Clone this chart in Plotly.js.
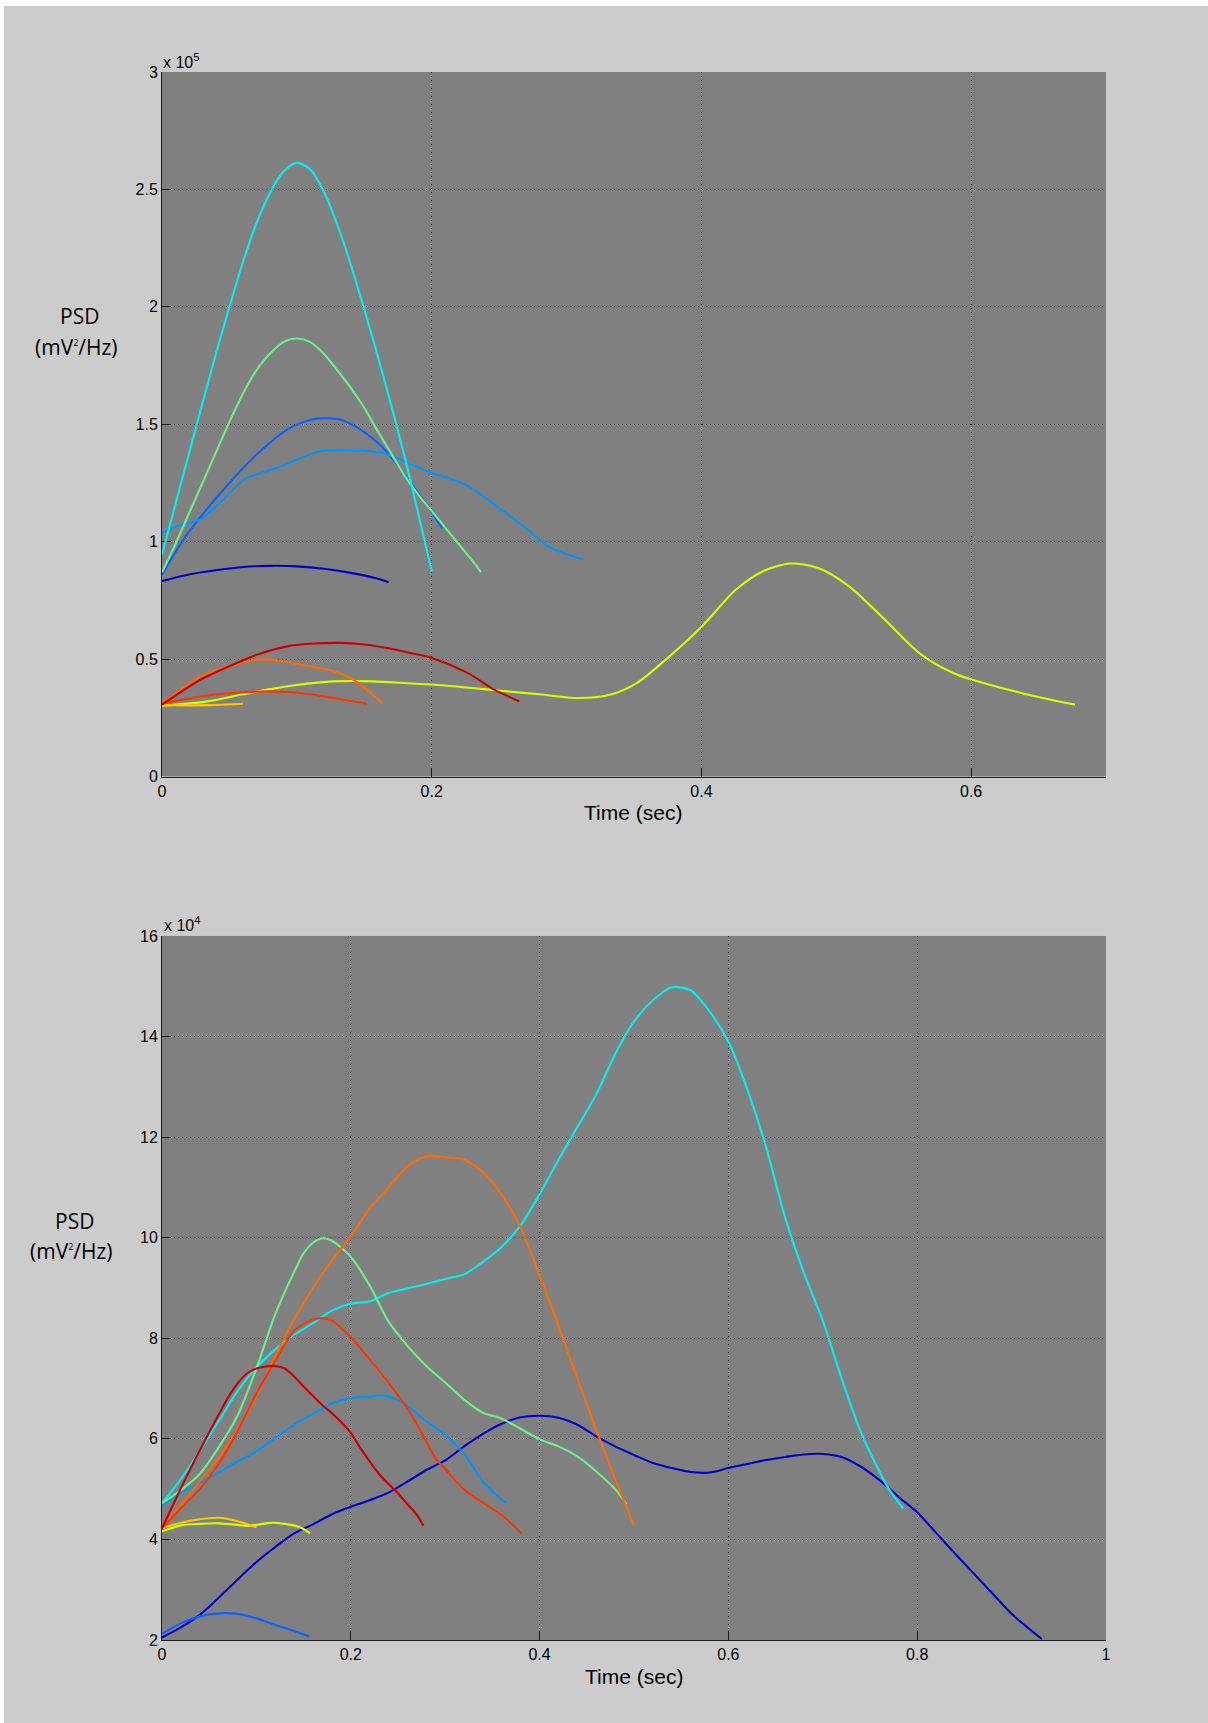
<!DOCTYPE html>
<html>
<head>
<meta charset="utf-8">
<script src="https://cdn.plot.ly/plotly-3.0.1.min.js"></script>
<style>
  html, body { margin: 0; padding: 0; background: #ffffff; }
  #chart { position: absolute; left: 4px; top: 6px; width: 1204px; height: 1717px; }
</style>
</head>
<body>
<div id="chart"></div>
<script>
// ---------- TOP PANEL (PSD in units of 10^5 mV^2/Hz) ----------
const topDarkBlueX = [0, 0.02, 0.04, 0.06, 0.08, 0.1, 0.12, 0.14, 0.16, 0.168];
const topDarkBlueY = [0.832, 0.86, 0.878, 0.892, 0.897, 0.895, 0.885, 0.867, 0.842, 0.827];

const topBlueX = [0, 0.016, 0.03, 0.048, 0.07, 0.093, 0.105, 0.115, 0.125, 0.132, 0.147, 0.165, 0.182, 0.197, 0.208];
const topBlueY = [0.86, 1.01, 1.115, 1.237, 1.37, 1.478, 1.51, 1.524, 1.525, 1.52, 1.478, 1.393, 1.27, 1.151, 1.055];

const topLightBlueX = [0, 0.011, 0.0284, 0.048, 0.061, 0.0855, 0.1176, 0.135, 0.152, 0.167, 0.1795, 0.2006, 0.219, 0.229, 0.2414, 0.2563, 0.271, 0.286, 0.296, 0.3127];
const topLightBlueY = [1.038, 1.066, 1.095, 1.194, 1.265, 1.315, 1.386, 1.388, 1.386, 1.372, 1.343, 1.291, 1.258, 1.23, 1.18, 1.116, 1.052, 0.981, 0.955, 0.924];

const topCyanX = [0, 0.01, 0.02, 0.03, 0.04, 0.05, 0.06, 0.07, 0.08, 0.09, 0.1, 0.11, 0.12, 0.13, 0.14, 0.15, 0.16, 0.17, 0.18, 0.19, 0.2];
const topCyanY = [0.945, 1.16, 1.375, 1.59, 1.8, 2.0, 2.19, 2.355, 2.485, 2.575, 2.613, 2.585, 2.49, 2.35, 2.18, 1.99, 1.79, 1.58, 1.36, 1.12, 0.875];

const topGreenX = [0, 0.01, 0.02, 0.03, 0.04, 0.05, 0.06, 0.07, 0.08, 0.09, 0.1, 0.11, 0.12, 0.13, 0.14, 0.15, 0.16, 0.17, 0.18, 0.19, 0.2, 0.21, 0.22, 0.23, 0.2365];
const topGreenY = [0.87, 0.99, 1.12, 1.25, 1.38, 1.51, 1.63, 1.73, 1.8, 1.85, 1.865, 1.85, 1.8, 1.73, 1.655, 1.57, 1.47, 1.375, 1.28, 1.2, 1.13, 1.06, 0.99, 0.92, 0.87];

const topYellowX = [0, 0.0335, 0.06, 0.078, 0.1, 0.1275, 0.157, 0.18, 0.202, 0.23, 0.251, 0.28, 0.308, 0.332, 0.352, 0.375, 0.4005, 0.4257, 0.4458, 0.4659, 0.486, 0.5095, 0.536, 0.563, 0.5866, 0.601, 0.637, 0.677];
const topYellowY = [0.301, 0.32, 0.35, 0.37, 0.39, 0.405, 0.405, 0.398, 0.391, 0.377, 0.365, 0.35, 0.334, 0.348, 0.398, 0.505, 0.64, 0.796, 0.874, 0.907, 0.889, 0.81, 0.668, 0.519, 0.441, 0.412, 0.356, 0.306];

const topGoldX = [0, 0.02, 0.04, 0.06];
const topGoldY = [0.305, 0.303, 0.305, 0.31];

const topOrangeX = [0, 0.0285, 0.053, 0.0706, 0.085, 0.103, 0.1275, 0.142, 0.153, 0.164];
const topOrangeY = [0.31, 0.426, 0.476, 0.498, 0.495, 0.476, 0.448, 0.412, 0.365, 0.31];

const topRedOrangeX = [0, 0.0285, 0.05, 0.073, 0.093, 0.11, 0.1275, 0.152];
const topRedOrangeY = [0.31, 0.341, 0.355, 0.362, 0.36, 0.35, 0.334, 0.31];

const topRedX = [0, 0.0285, 0.05, 0.0706, 0.093, 0.11, 0.1324, 0.15, 0.167, 0.185, 0.2, 0.2266, 0.2463, 0.265];
const topRedY = [0.306, 0.412, 0.47, 0.519, 0.554, 0.565, 0.569, 0.562, 0.547, 0.525, 0.505, 0.441, 0.37, 0.32];

// ---------- BOTTOM PANEL (PSD in units of 10^4 mV^2/Hz) ----------
const botDarkBlueX = [0, 0.02, 0.04, 0.06, 0.08, 0.1, 0.12, 0.14, 0.16, 0.18, 0.2, 0.22, 0.24, 0.26, 0.28, 0.3, 0.32, 0.34, 0.36, 0.38, 0.4, 0.42, 0.44, 0.46, 0.48, 0.5, 0.52, 0.54, 0.56, 0.58, 0.6, 0.62, 0.64, 0.66, 0.68, 0.7, 0.72, 0.74, 0.76, 0.78, 0.8, 0.82, 0.84, 0.86, 0.88, 0.9, 0.932];
const botDarkBlueY = [2.05, 2.25, 2.5, 2.84, 3.2, 3.55, 3.85, 4.12, 4.3, 4.5, 4.65, 4.78, 4.93, 5.15, 5.38, 5.57, 5.85, 6.1, 6.3, 6.43, 6.46, 6.42, 6.28, 6.05, 5.85, 5.68, 5.52, 5.42, 5.34, 5.33, 5.42, 5.5, 5.58, 5.64, 5.69, 5.7, 5.64, 5.45, 5.18, 4.85, 4.54, 4.13, 3.72, 3.32, 2.92, 2.52, 2.02];

const botBlueX = [0, 0.02, 0.04, 0.06, 0.08, 0.1, 0.12, 0.14, 0.156];
const botBlueY = [2.12, 2.33, 2.47, 2.53, 2.52, 2.43, 2.3, 2.18, 2.07];

const botLightBlueX = [0, 0.02, 0.04, 0.06, 0.08, 0.1, 0.12, 0.14, 0.16, 0.18, 0.2, 0.22, 0.235, 0.25, 0.26, 0.28, 0.3, 0.32, 0.34, 0.352, 0.365];
const botLightBlueY = [4.68, 4.92, 5.12, 5.33, 5.55, 5.75, 6.02, 6.28, 6.5, 6.7, 6.81, 6.84, 6.86, 6.77, 6.65, 6.35, 6.08, 5.7, 5.15, 4.92, 4.72];

const botCyanX = [0, 0.02, 0.04, 0.06, 0.08, 0.1, 0.12, 0.14, 0.16, 0.18, 0.2, 0.22, 0.24, 0.26, 0.28, 0.3, 0.32, 0.34, 0.36, 0.38, 0.4, 0.42, 0.44, 0.46, 0.48, 0.5, 0.52, 0.54, 0.56, 0.58, 0.6, 0.62, 0.64, 0.66, 0.68, 0.7, 0.72, 0.74, 0.76, 0.77, 0.785];
const botCyanY = [4.72, 5.2, 5.76, 6.35, 6.95, 7.42, 7.78, 8.07, 8.3, 8.55, 8.69, 8.73, 8.9, 8.99, 9.08, 9.18, 9.27, 9.52, 9.82, 10.25, 10.86, 11.55, 12.2, 12.85, 13.65, 14.3, 14.72, 14.98, 14.92, 14.5, 13.9, 12.95, 11.8, 10.41, 9.3, 8.35, 7.2, 6.15, 5.35, 5.0, 4.62];

const botGreenX = [0, 0.02, 0.04, 0.06, 0.08, 0.1, 0.12, 0.14, 0.15, 0.16, 0.17, 0.18, 0.19, 0.2, 0.22, 0.24, 0.26, 0.28, 0.3, 0.32, 0.34, 0.36, 0.38, 0.4, 0.42, 0.44, 0.46, 0.48, 0.492];
const botGreenY = [4.72, 4.98, 5.3, 5.83, 6.46, 7.4, 8.48, 9.32, 9.69, 9.9, 9.99, 9.94, 9.8, 9.62, 9.05, 8.33, 7.85, 7.45, 7.12, 6.78, 6.52, 6.4, 6.2, 5.99, 5.85, 5.65, 5.35, 5.0, 4.7];

const botYellowX = [0, 0.02, 0.04, 0.06, 0.08, 0.09, 0.1, 0.115, 0.13, 0.145, 0.157];
const botYellowY = [4.16, 4.28, 4.31, 4.32, 4.29, 4.27, 4.29, 4.33, 4.31, 4.25, 4.12];

const botGoldX = [0, 0.02, 0.04, 0.06, 0.08, 0.1];
const botGoldY = [4.22, 4.33, 4.4, 4.43, 4.36, 4.24];

const botOrangeX = [0, 0.02, 0.04, 0.06, 0.08, 0.1, 0.12, 0.14, 0.16, 0.18, 0.2, 0.22, 0.24, 0.26, 0.28, 0.3, 0.32, 0.34, 0.36, 0.38, 0.4, 0.42, 0.44, 0.46, 0.48, 0.5];
const botOrangeY = [4.22, 4.68, 5.15, 5.62, 6.18, 6.85, 7.65, 8.38, 9.0, 9.55, 10.03, 10.58, 11.0, 11.42, 11.62, 11.6, 11.55, 11.3, 10.85, 10.2, 9.25, 8.25, 7.2, 6.18, 5.2, 4.28];

const botRedOrangeX = [0, 0.02, 0.04, 0.06, 0.08, 0.1, 0.12, 0.14, 0.16, 0.17, 0.18, 0.2, 0.22, 0.24, 0.26, 0.28, 0.29, 0.3, 0.32, 0.34, 0.36, 0.381];
const botRedOrangeY = [4.22, 4.62, 5.0, 5.5, 6.15, 6.9, 7.55, 8.15, 8.37, 8.4, 8.35, 8.02, 7.58, 7.12, 6.6, 5.95, 5.6, 5.4, 4.99, 4.73, 4.48, 4.12];

const botRedX = [0, 0.01, 0.02, 0.03, 0.04, 0.05, 0.06, 0.07, 0.08, 0.09, 0.1, 0.11, 0.12, 0.13, 0.14, 0.15, 0.16, 0.17, 0.18, 0.19, 0.2, 0.21, 0.22, 0.23, 0.24, 0.25, 0.26, 0.27, 0.277];
const botRedY = [4.22, 4.62, 5.02, 5.4, 5.77, 6.13, 6.48, 6.82, 7.1, 7.3, 7.4, 7.44, 7.45, 7.4, 7.24, 7.04, 6.85, 6.67, 6.51, 6.33, 6.12, 5.82, 5.55, 5.3, 5.1, 4.92, 4.7, 4.49, 4.27];

// tick values
const topXTicks = [0, 0.2, 0.4, 0.6];
const topYTicks = [0, 0.5, 1, 1.5, 2, 2.5, 3];
const botXTicks = [0, 0.2, 0.4, 0.6, 0.8, 1];
const botYTicks = [2, 4, 6, 8, 10, 12, 14, 16];

const COL = {
  darkblue: '#0000c8', blue: '#0a62ff', lightblue: '#0096ff', cyan: '#00f0f0',
  green: '#6cf08c', yellow: '#d2ff00', gold: '#ffc800', orange: '#ff6a00',
  redorange: '#ff3300', red: '#cc0000'
};

function tr(x, y, color, xa, ya) {
  return {x: x, y: y, type: 'scatter', mode: 'lines', xaxis: xa, yaxis: ya,
          line: {color: color, width: 2.1, shape: 'spline', smoothing: 0.8},
          hoverinfo: 'skip', showlegend: false};
}

const data = [
  tr(topDarkBlueX, topDarkBlueY, COL.darkblue, 'x', 'y'),
  tr(topBlueX, topBlueY, COL.blue, 'x', 'y'),
  tr(topLightBlueX, topLightBlueY, COL.lightblue, 'x', 'y'),
  tr(topGreenX, topGreenY, COL.green, 'x', 'y'),
  tr(topCyanX, topCyanY, COL.cyan, 'x', 'y'),
  tr(topYellowX, topYellowY, COL.yellow, 'x', 'y'),
  tr(topGoldX, topGoldY, COL.gold, 'x', 'y'),
  tr(topOrangeX, topOrangeY, COL.orange, 'x', 'y'),
  tr(topRedOrangeX, topRedOrangeY, COL.redorange, 'x', 'y'),
  tr(topRedX, topRedY, COL.red, 'x', 'y'),

  tr(botDarkBlueX, botDarkBlueY, COL.darkblue, 'x2', 'y2'),
  tr(botBlueX, botBlueY, COL.blue, 'x2', 'y2'),
  tr(botLightBlueX, botLightBlueY, COL.lightblue, 'x2', 'y2'),
  tr(botCyanX, botCyanY, COL.cyan, 'x2', 'y2'),
  tr(botGreenX, botGreenY, COL.green, 'x2', 'y2'),
  tr(botYellowX, botYellowY, COL.yellow, 'x2', 'y2'),
  tr(botGoldX, botGoldY, COL.gold, 'x2', 'y2'),
  tr(botOrangeX, botOrangeY, COL.orange, 'x2', 'y2'),
  tr(botRedOrangeX, botRedOrangeY, COL.redorange, 'x2', 'y2'),
  tr(botRedX, botRedY, COL.red, 'x2', 'y2')
];

const tickFont = {family: 'Liberation Sans, Arial, sans-serif', size: 16, color: '#000'};
function ax(extra) {
  return Object.assign({
    showgrid: true, gridcolor: '#1e1e1e', griddash: '1px,3px', gridwidth: 1,
    showline: true, linecolor: '#1e1e1e', linewidth: 1, mirror: false,
    ticks: 'inside', ticklen: 9, tickwidth: 1, tickcolor: '#1e1e1e',
    zeroline: false, tickfont: tickFont, fixedrange: true, layer: 'below traces'
  }, extra);
}

const labFont = {family: 'Open Sans, Noto Sans, sans-serif', size: 21, color: '#000'};
const timeFont = {family: 'Liberation Sans, Arial, sans-serif', size: 21, color: '#000'};
const expFont = {family: 'Liberation Sans, Arial, sans-serif', size: 16, color: '#000'};
const unitText = '(mV<sup><span style="font-size:9px">2</span></sup>/Hz)';

const layout = {
  width: 1204, height: 1717,
  margin: {l: 158, r: 102, t: 66, b: 83},
  paper_bgcolor: '#cccccc', plot_bgcolor: '#808080',
  showlegend: false,
  xaxis: ax({domain: [0, 1], range: [0, 0.7], anchor: 'y', tickvals: topXTicks}),
  yaxis: ax({domain: [0.5507, 1], range: [0, 3], anchor: 'x', tickvals: topYTicks}),
  xaxis2: ax({domain: [0, 1], range: [0, 1], anchor: 'y2', tickvals: botXTicks}),
  yaxis2: ax({domain: [0, 0.449], range: [2, 16], anchor: 'x2', tickvals: botYTicks}),
  annotations: [
    {text: 'Time (sec)', xref: 'paper', yref: 'paper', x: 0.4985, y: 0.528, xanchor: 'center', yanchor: 'middle', showarrow: false, font: timeFont},
    {text: 'Time (sec)', xref: 'paper', yref: 'paper', x: 0.5, y: -0.023, xanchor: 'center', yanchor: 'middle', showarrow: false, font: timeFont},
    {text: 'PSD', xref: 'paper', yref: 'paper', x: -0.0872, y: 0.8444, xanchor: 'center', yanchor: 'middle', showarrow: false, font: labFont},
    {text: unitText, xref: 'paper', yref: 'paper', x: -0.0904, y: 0.8245, xanchor: 'center', yanchor: 'middle', showarrow: false, font: labFont},
    {text: 'PSD', xref: 'paper', yref: 'paper', x: -0.0927, y: 0.2672, xanchor: 'center', yanchor: 'middle', showarrow: false, font: labFont},
    {text: unitText, xref: 'paper', yref: 'paper', x: -0.0961, y: 0.2479, xanchor: 'center', yanchor: 'middle', showarrow: false, font: labFont},
    {text: 'x 10<sup>5</sup>', xref: 'paper', yref: 'paper', x: -0.0007, y: 1.007, xanchor: 'left', yanchor: 'middle', showarrow: false, font: expFont},
    {text: 'x 10<sup>4</sup>', xref: 'paper', yref: 'paper', x: 0.0004, y: 0.4566, xanchor: 'left', yanchor: 'middle', showarrow: false, font: expFont}
  ]
};

Plotly.newPlot('chart', data, layout, {displayModeBar: false, staticPlot: true});
</script>
</body>
</html>
